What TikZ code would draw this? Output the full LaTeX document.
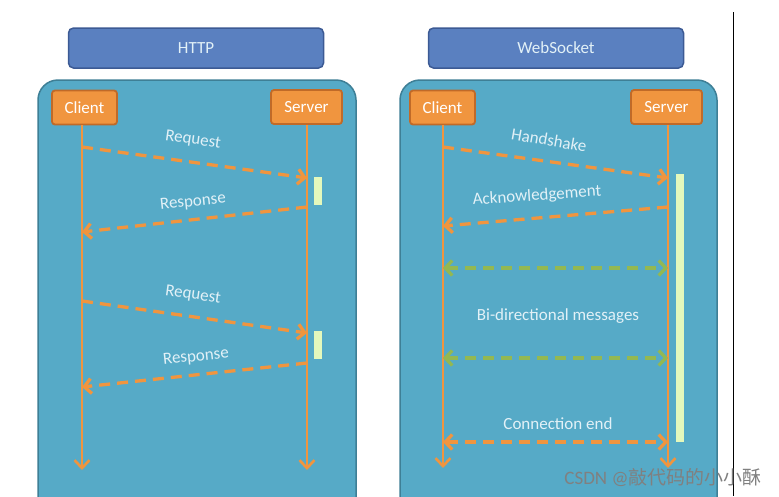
\documentclass[tikz,border=0pt]{standalone}
\usepackage{fontspec}
\setmainfont{Carlito}
\newfontfamily\cjk{Noto Sans CJK SC}
\usetikzlibrary{arrows.meta}
\definecolor{panelblue}{HTML}{56AAC7}
\definecolor{paneledge}{HTML}{3E7F96}
\definecolor{headblue}{HTML}{5A80C0}
\definecolor{headedge}{HTML}{3C5A94}
\definecolor{boxorange}{HTML}{F0953F}
\definecolor{boxedge}{HTML}{C06A28}
\definecolor{msggreen}{HTML}{93B852}
\definecolor{barlime}{HTML}{E4F8BC}
\definecolor{labeltext}{HTML}{E2F1F7}
\begin{document}
\begin{tikzpicture}[x=1pt,y=-1pt,
	every node/.style={font=\fontsize{17}{19}\selectfont},
	header/.style={draw=headedge,line width=1.5pt,fill=headblue,rounded corners=5pt,
		minimum width=255pt,minimum height=40pt,text=labeltext},
	panel/.style={draw=paneledge,line width=1.5pt,fill=panelblue,rounded corners=20pt},
	actor/.style={draw=boxedge,line width=1.8pt,fill=boxorange,rounded corners=3pt,
		minimum height=34pt,inner xsep=6pt,text=white},
	life/.style={boxorange,line width=2.6pt,-{Straight Barb[length=8pt,width=15pt]}},
	msg/.style={boxorange,line width=3.3pt,dash pattern=on 11pt off 7pt,-{Straight Barb[length=7pt,width=15pt]}},
	both/.style={msg,{Straight Barb[length=7pt,width=15pt]}-{Straight Barb[length=7pt,width=15pt]}},
	bar/.style={fill=barlime,draw=none},
	lbl/.style={text=labeltext}]
	\useasboundingbox (0,0) rectangle (779,496);
	\clip (0,0) rectangle (779,496);
	\fill[white] (0,0) rectangle (779,496);
	
	% panels and titles
	\draw[panel] (38,80) rectangle (356,530);
	\draw[panel] (400,80) rectangle (717,530);
	\node[header] (http) at (196,48) {HTTP};
	\node[header] (ws) at (556,48) {WebSocket};
	\draw[black,line width=0.8pt] (733,12) -- (733,496);
	
	% actors
	\node[actor,minimum width=65pt] (c1) at (84.5,107.5) {Client};
	\node[actor,minimum width=71pt] (s1) at (306.5,107) {Server};
	\node[actor,minimum width=65pt] (c2) at (442.5,107.5) {Client};
	\node[actor,minimum width=71pt] (s2) at (666.5,107) {Server};
	
	% activation bars
	\fill[bar] (314,177) rectangle (322,205);
	\fill[bar] (314,331) rectangle (322,359);
	\fill[bar] (676,174) rectangle (684,442);
	
	% lifelines
	\coordinate (c1 end) at (82,470);
	\coordinate (s1 end) at (307,470);
	\coordinate (c2 end) at (443,468);
	\coordinate (s2 end) at (668,468);
	\draw[life] (c1 end |- c1.south) -- (c1 end);
	\draw[life] (s1 end |- s1.south) -- (s1 end);
	\draw[life] (c2 end |- c2.south) -- (c2 end);
	\draw[life] (s2 end |- s2.south) -- (s2 end);
	
	% HTTP messages
	\foreach \a/\b in {147/178,301/333}{
		\draw[msg] (c1 end |- 0,\a) -- (s1 end |- 0,\b);
	}
	\foreach \a/\b in {207/232,363/387}{
		\draw[msg] (s1 end |- 0,\a) -- (c1 end |- 0,\b);
	}
	\node[lbl,rotate=-8] (req1) at (193,140) {Request};
	\node[lbl,rotate=6] (res1) at (193,202) {Response};
	\node[lbl,rotate=-8] (req2) at (193,295) {Request};
	\node[lbl,rotate=6] (res2) at (196,357) {Response};
	
	% WebSocket messages
	\draw[msg] (c2 end |- 0,147) -- (s2 end |- 0,178);
	\draw[msg] (s2 end |- 0,207) -- (c2 end |- 0,226);
	\foreach \y in {268,358}{
		\draw[both,msggreen] (c2 end |- 0,\y) -- (s2 end |- 0,\y);
	}
	\draw[both] (c2 end |- 0,442) -- (s2 end |- 0,442);
	\node[lbl,rotate=-10] (hs) at (549,140) {Handshake};
	\node[lbl,rotate=4] (ack) at (537,196) {Acknowledgement};
	\node[lbl] (bidi) at (558,316) {Bi-directional messages};
	\node[lbl] (cend) at (558,424) {Connection end};
	
	\node[text=black!50,font=\fontsize{19}{21}\selectfont] (mark) at (663,478) {CSDN @\cjk 敲代码的小小酥};
\end{tikzpicture}
\end{document}
